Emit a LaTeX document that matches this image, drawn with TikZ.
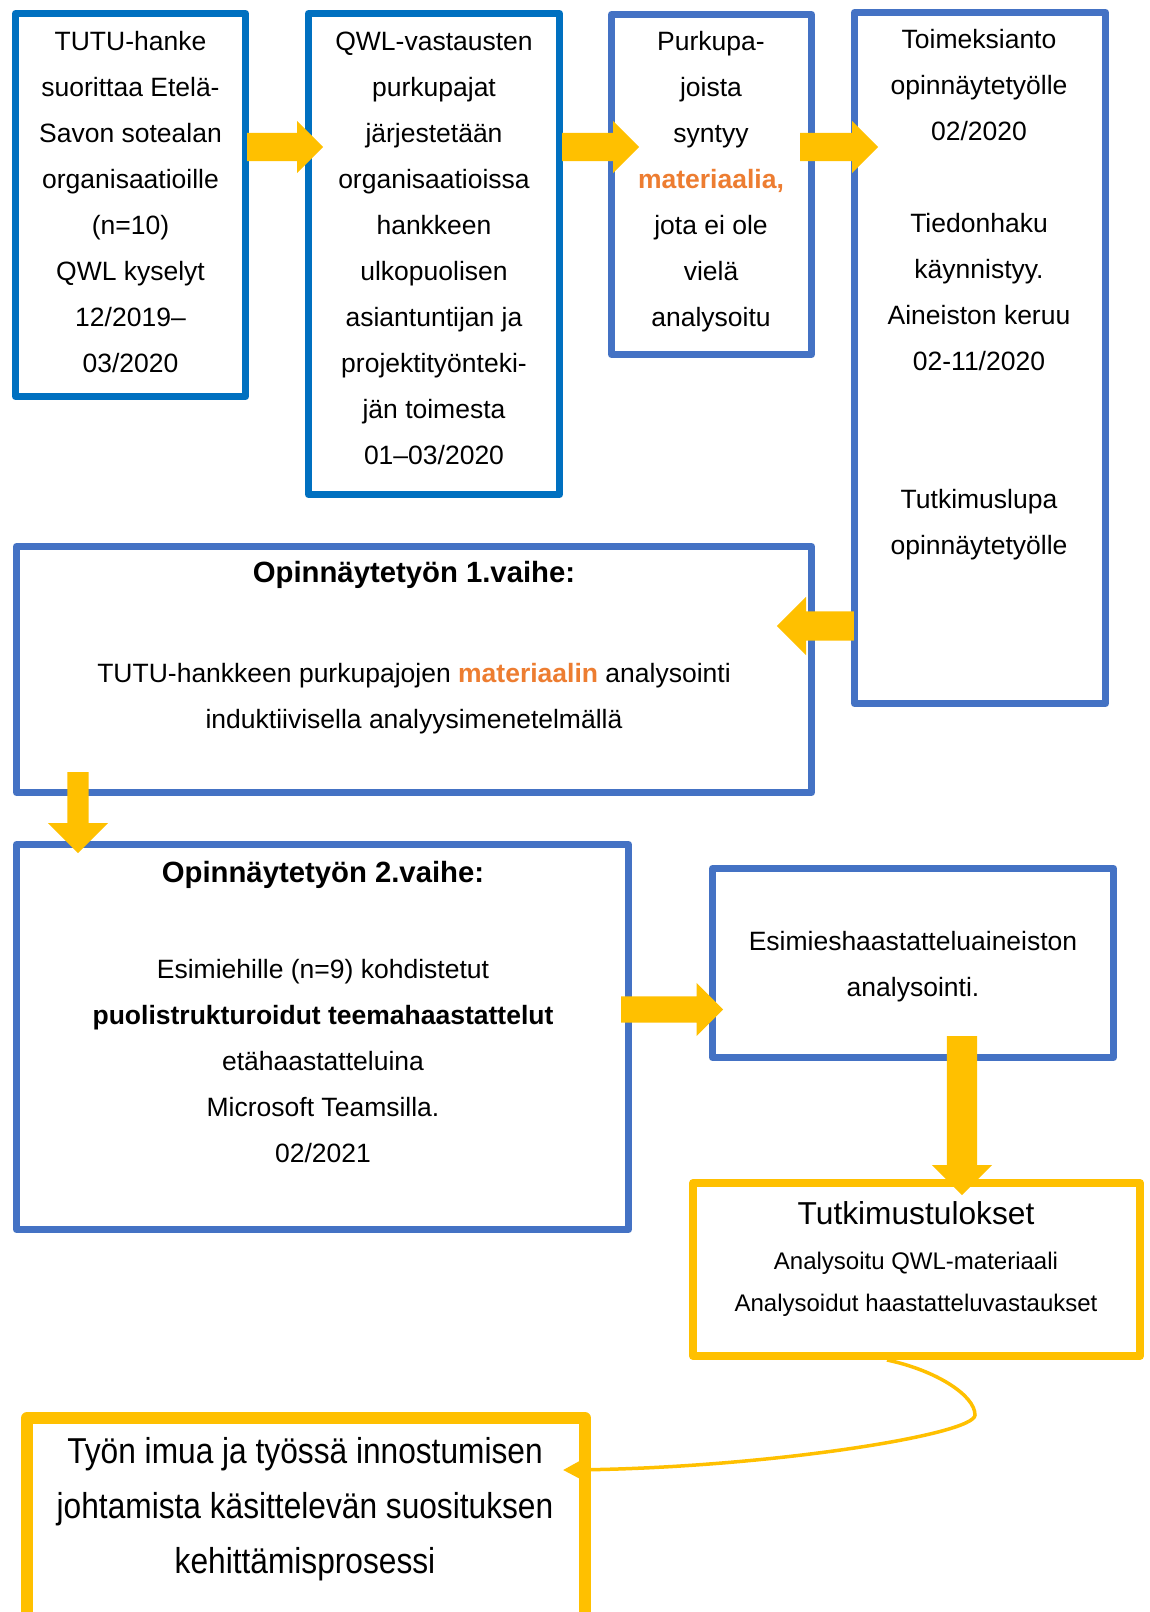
\documentclass[tikz,border=0pt]{standalone}
\usepackage{fontspec}
\setmainfont{Liberation Sans}
\newfontfamily\narrowfont[FakeStretch=0.88]{Liberation Sans}
\usetikzlibrary{shapes.arrows,arrows.meta,calc}
\definecolor{deepblue}{HTML}{0070C0}
\definecolor{midblue}{HTML}{4472C4}
\definecolor{amber}{HTML}{FFC000}
\definecolor{accent}{HTML}{ED7D31}
\tikzset{
  frame/.style={draw=midblue, line width=7pt, line join=round, fill=white, inner sep=0pt},
  darkframe/.style={frame, draw=deepblue},
  goldframe/.style={frame, draw=amber},
  txt/.style={font=\fontsize{26.5}{46}\selectfont, align=center, inner sep=0pt},
  head/.style={font=\fontsize{29.3}{46}\selectfont\bfseries, align=center, inner sep=0pt},
  blockarrow/.style={single arrow, fill=amber, draw=none, inner xsep=0pt, anchor=tail,
    single arrow tip angle=90, single arrow head indent=0pt}
}
\newcommand{\hl}[1]{{\bfseries\color{accent}#1}}
\begin{document}
\begin{tikzpicture}[x=1pt,y=-1pt]
\useasboundingbox (0,0) rectangle (1149,1612);
\fill[white] (0,0) rectangle (1149,1612);
\clip (0,0) rectangle (1149,1612);

% process boxes
\node[darkframe, minimum width=230pt, minimum height=383pt] (b1) at (130.5,205) {};
\node[darkframe, minimum width=251pt, minimum height=481pt] (b2) at (434,254) {};
\node[frame, minimum width=200pt, minimum height=340pt] (b3) at (711.5,184.5) {};
\node[frame, minimum width=251pt, minimum height=691pt] (b4) at (980,358) {};
\node[frame, minimum width=795pt, minimum height=246pt] (b5) at (414,669.5) {};
\node[frame, minimum width=612pt, minimum height=385pt] (b6) at (322.5,1037) {};
\node[frame, minimum width=401pt, minimum height=189pt] (b7) at (913,963) {};
\node[goldframe, line width=8pt, minimum width=447pt, minimum height=173pt] (b8) at (916.5,1269.5) {};
\node[goldframe, line width=12pt, minimum width=558pt, minimum height=236pt] (b9) at (306,1536) {};

% box texts
\node[txt] (t1) at (130.5,202) {TUTU-hanke\\suorittaa Etelä-\\Savon sotealan\\organisaatioille\\(n=10)\\QWL kyselyt\\12/2019–\\03/2020};
\node[txt] (t2) at (434,248) {QWL-vastausten\\purkupajat\\järjestetään\\organisaatioissa\\hankkeen\\ulkopuolisen\\asiantuntijan ja\\projektityönteki-\\jän toimesta\\01–03/2020};
\node[txt] (t3) at (711,182) {Purkupa-\\joista\\syntyy\\\hl{materiaalia,}\\jota ei ole\\vielä\\analysoitu};
\node[txt] (t4) at (979,295) {Toimeksianto\\opinnäytetyölle\\02/2020\\[46pt]Tiedonhaku\\käynnistyy.\\Aineiston keruu\\02-11/2020\\[92pt]Tutkimuslupa\\opinnäytetyölle};
\node[head] (t5h) at (414,575) {Opinnäytetyön 1.vaihe:};
\node[txt] (t5) at (414,699) {TUTU-hankkeen purkupajojen \hl{materiaalin} analysointi\\induktiivisella analyysimenetelmällä};
\node[head] (t6h) at (323,875) {Opinnäytetyön 2.vaihe:};
\node[txt] (t6) at (323,1061) {Esimiehille (n=9) kohdistetut\\\textbf{puolistrukturoidut teemahaastattelut}\\etähaastatteluina\\Microsoft Teamsilla.\\02/2021};
\node[txt] (t7) at (913,966.5) {Esimieshaastatteluaineiston\\analysointi.};
\node[txt, font=\fontsize{31.7}{40}\selectfont] (t8h) at (916,1213) {Tutkimustulokset};
\node[txt, font=\fontsize{24}{42}\selectfont] (t8) at (916,1284) {Analysoitu QWL-materiaali\\Analysoidut haastatteluvastaukset};
\node[txt, font=\narrowfont\fontsize{36}{55}\selectfont] (t9) at (305,1509) {Työn imua ja työssä innostumisen\\johtamista käsittelevän suosituksen\\kehittämisprosessi};

% block arrows between the boxes (placed by their tails; shaft width = 2 x inner ysep)
\node[blockarrow, minimum height=76pt, inner ysep=14pt, single arrow head extend=12pt] (a1) at (247,147) {};
\node[blockarrow, minimum height=77pt, inner ysep=14pt, single arrow head extend=12pt] (a2) at (562,147) {};
\node[blockarrow, minimum height=78pt, inner ysep=14pt, single arrow head extend=12pt] (a3) at (800,147) {};
\node[blockarrow, rotate=180, minimum height=77pt, inner ysep=14.5pt, single arrow head extend=14.5pt] (a4) at (854,626) {};
\node[blockarrow, rotate=-90, minimum height=81pt, inner ysep=10.5pt, single arrow head extend=19.5pt] (a5) at (78,772) {};
\node[blockarrow, minimum height=102pt, inner ysep=13pt, single arrow head extend=13.5pt] (a6) at (621,1009.5) {};
\node[blockarrow, rotate=-90, minimum height=159pt, inner ysep=15pt, single arrow head extend=15pt] (a7) at (962,1036) {};

% curved link from the results to the development process
\coordinate (bend) at (975,1415);
\draw[amber, line width=3.5pt, -{Triangle[length=16pt,width=16pt]}]
  ([xshift=-29.5pt]b8.south) .. controls +(48,10) and +(0,-20) .. (bend)
  .. controls +(0,20) and +(200,-2) .. ($(b9.north east)+(-28,58)$);
\end{tikzpicture}
\end{document}
